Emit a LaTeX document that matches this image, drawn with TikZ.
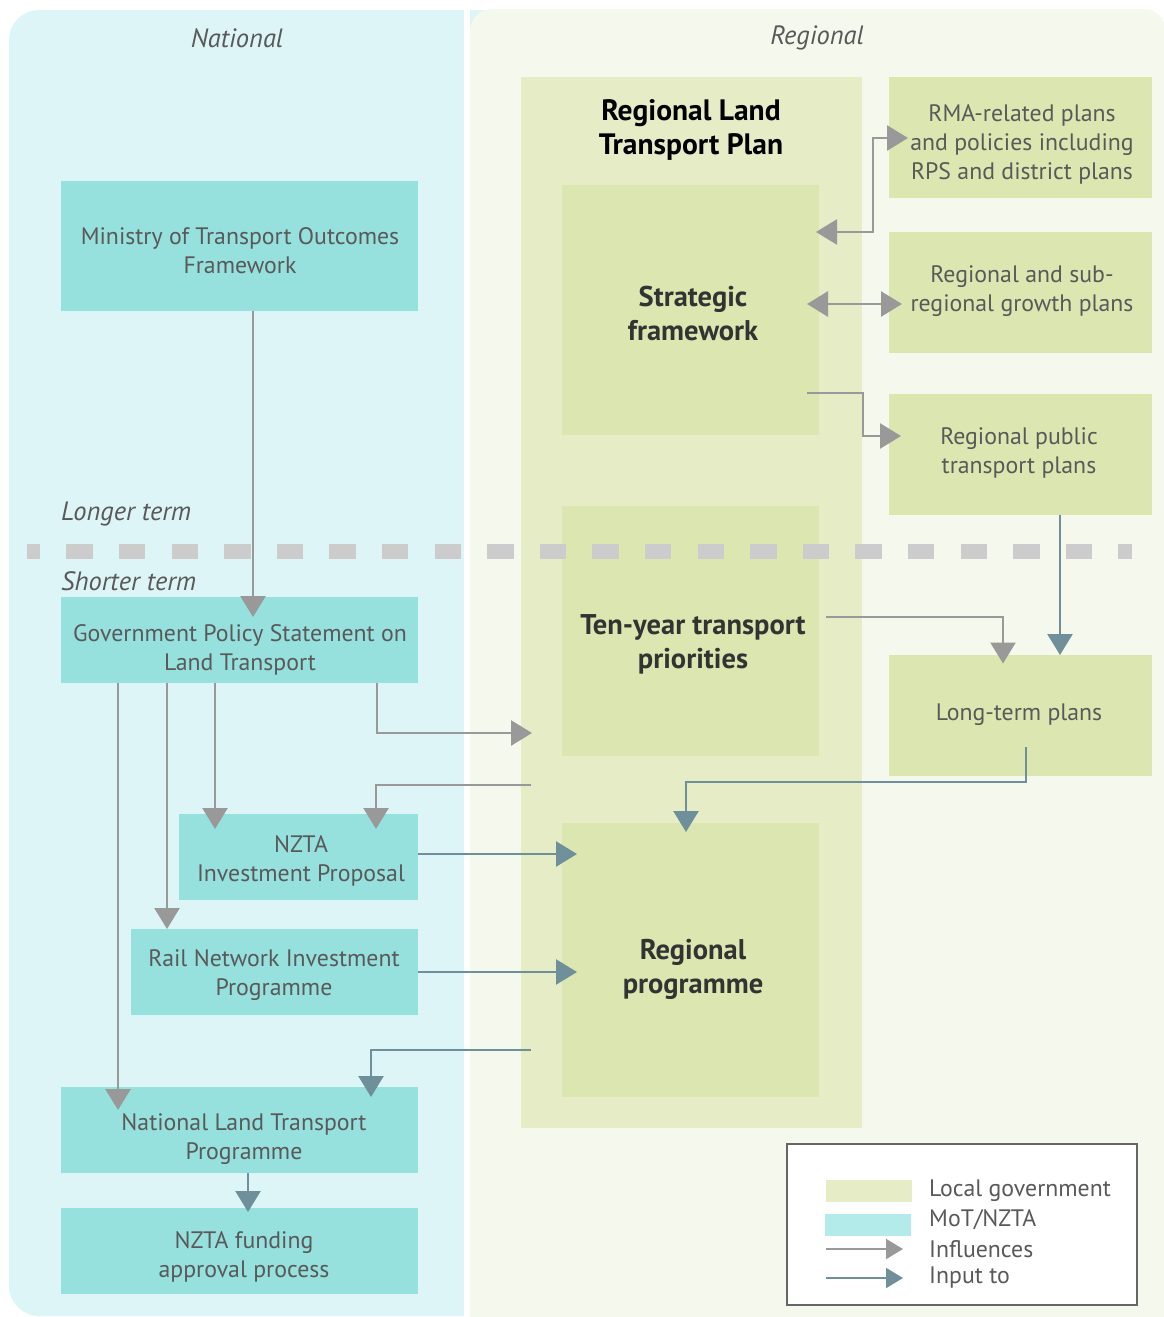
\documentclass[tikz,border=0pt]{standalone}
\usepackage{fontspec}
\setmainfont{PT Sans}
\usetikzlibrary{arrows.meta,calc}
\definecolor{natbg}{HTML}{DDF5F6}
\definecolor{regbg}{HTML}{F5F8EC}
\definecolor{mot}{HTML}{96E0DE}
\definecolor{rltpc}{HTML}{E5ECC6}
\definecolor{loc}{HTML}{DCE6B0}
\definecolor{legmot}{HTML}{B3EBEB}
\definecolor{arrgray}{HTML}{999999}
\definecolor{arrblue}{HTML}{6F8F9B}
\definecolor{dashc}{HTML}{CCCCCC}
\definecolor{txtgray}{HTML}{595959}
\definecolor{darktxt}{HTML}{333333}
\definecolor{legframe}{HTML}{666666}
\tikzset{
  box/.style={rectangle, inner sep=0pt, outer sep=0pt, draw=none},
  motbox/.style={box, fill=mot},
  locbox/.style={box, fill=loc},
  txt/.style={text=txtgray, font=\fontsize{23.8}{29}\selectfont, align=center, inner sep=0pt},
  btxt/.style={text=darktxt, font=\fontsize{28.5}{34}\selectfont\bfseries, align=center, inner sep=0pt},
  itxt/.style={text=txtgray, font=\fontsize{26.5}{29}\selectfont\itshape, inner sep=0pt},
  tipbig/.tip={Triangle[length=21pt,width=25pt]},
  tipsmall/.tip={Triangle[length=17pt,width=20pt]},
  infl/.style={draw=arrgray, line width=2.5pt, -tipbig},
  inpt/.style={draw=arrblue, line width=2.5pt, -tipbig},
  both/.style={draw=arrgray, line width=2.5pt, tipbig-tipbig},
}
\begin{document}
\begin{tikzpicture}[x=1pt,y=-1pt]
\useasboundingbox (0,0) rectangle (1164,1317);
% panels
\fill[natbg, rounded corners=30pt] (9,10) rectangle (520,1316);
\fill[white] (464,0) rectangle (470,1317);
\fill[regbg, rounded corners=22pt] (470,9) rectangle (1166,1345);

% RLTP block
\node[box, fill=rltpc, minimum width=341pt, minimum height=1051pt] (rltp) at (691.5,602.5) {};
\node[locbox, minimum width=257pt, minimum height=250pt] (strat) at (690.5,310) {};
\node[locbox, minimum width=257pt, minimum height=250pt] (ten) at (690.5,631) {};
\node[locbox, minimum width=257pt, minimum height=274pt] (regp) at (690.5,960) {};

% right boxes
\node[locbox, minimum width=263pt, minimum height=121pt] (rma) at (1020.5,137.5) {};
\node[locbox, minimum width=263pt, minimum height=121pt] (grow) at (1020.5,292.5) {};
\node[locbox, minimum width=263pt, minimum height=121pt] (rpt) at (1020.5,454.5) {};
\node[locbox, minimum width=263pt, minimum height=121pt] (ltp) at (1020.5,715.5) {};

% national boxes
\node[motbox, minimum width=357pt, minimum height=130pt] (motf) at (239.5,246) {};
\node[motbox, minimum width=357pt, minimum height=86pt] (gps) at (239.5,640) {};
\node[motbox, minimum width=239pt, minimum height=86pt] (ip) at (298.5,857) {};
\node[motbox, minimum width=287pt, minimum height=86pt] (rail) at (274.5,972) {};
\node[motbox, minimum width=357pt, minimum height=86pt] (nltp) at (239.5,1130) {};
\node[motbox, minimum width=357pt, minimum height=86pt] (fund) at (239.5,1251) {};

% term divider
\draw[dashc, line width=15pt, dash pattern=on 26.3pt off 26.3pt, dash phase=13.15pt] (27,551) -- (1132,551);

% texts
\node[itxt] (tnat) at (237,38) {National};
\node[itxt] (treg) at (817,38) {Regional};
\node[itxt, anchor=west] (tlong) at (61,514) {Longer term};
\node[itxt, anchor=west] (tshort) at (61,581) {Shorter term};

\node[txt] (motT) at (240,251) {Ministry of Transport Outcomes\\Framework};
\node[txt] (gpsT) at (240,650) {Government Policy Statement on\\Land Transport};
\node[txt] (ipT) at (301,861) {NZTA\\Investment Proposal};
\node[txt] (railT) at (274,975) {Rail Network Investment\\Programme};
\node[txt] (nltpT) at (244,1139) {National Land Transport\\Programme};
\node[txt] (fundT) at (244,1257) {NZTA funding\\approval process};

\node[btxt, text=black, font=\fontsize{29.5}{34}\selectfont\bfseries] (rltpT) at (691,130) {Regional Land\\Transport Plan};
\node[btxt] (stratT) at (693,314) {Strategic\\framework};
\node[btxt] (tenT) at (693,644) {Ten-year transport\\priorities};
\node[btxt] (regpT) at (693,969) {Regional\\programme};

\node[txt] (rmaT) at (1022,144) {RMA-related plans\\and policies including\\RPS and district plans};
\node[txt] (growT) at (1022,291) {Regional and sub-\\regional growth plans};
\node[txt] (rptT) at (1019,453) {Regional public\\transport plans};
\node[txt] (ltpT) at (1019,715) {Long-term plans};

% connectors: influences
\draw[infl] ($(motf.south)+(13.5,0)$) -- ($(gps.north)+(13.5,20)$);
\draw[infl] ($(gps.south)+(137.5,0)$) |- ($(ten.west)+(-30,102)$);
\draw[infl] ($(gps.south)+(-24.5,0)$) -- ($(ip.north -| gps.south)+(-24.5,15)$);
\draw[infl] ($(gps.south)+(-72.5,0)$) -- ($(rail.north -| gps.south)+(-72.5,0)$);
\draw[infl] ($(gps.south)+(-121.5,0)$) -- ($(nltp.north)+(-121.5,23)$);
\coordinate (tenout) at ($(rltp.west)+(10,182.5)$);
\draw[infl] (tenout) -| ($(ip.north)+(77.5,15)$);

\draw[both] ($(strat.east)+(-3,-78)$) -- ($(strat.east)+(54,-78)$) |- ($(rma.west)+(19,0.5)$);
\draw[both] ($(strat.east)+(-12,-6)$) -- ($(grow.west)+(13,11.5)$);
\draw[infl] ($(strat.east)+(-12,83)$) -| ($(strat.east)+(44,126)$) -- ($(rpt.west)+(12,-18.5)$);
\coordinate (tenright) at ($(ten.east)+(7,-14)$);
\draw[infl] (tenright) -| ($(ltp.north)+(-17.5,8.5)$);

% connectors: input to
\draw[inpt] ($(ip.east)+(0,-3)$) -- ($(regp.west)+(15,-106)$);
\draw[inpt] (rail.east) -- ($(regp.west)+(15,12)$);
\coordinate (regout) at ($(rltp.west)+(10,447.5)$);
\draw[inpt] (regout) -| ($(nltp.north)+(131.5,10)$);
\draw[inpt] ($(nltp.south)+(8.5,0)$) -- ($(fund.north)+(8.5,4)$);
\draw[inpt] ($(rpt.south)+(39.5,0)$) -- ($(ltp.north)+(39.5,0)$);
\coordinate (ltpout) at ($(ltp.south)+(5.5,-29)$);
\draw[inpt] (ltpout) -- ++(0,35) -| ($(regp.north)+(-4.5,9)$);

% legend
\node[box, fill=white, draw=legframe, line width=2.5pt, minimum width=350pt, minimum height=161pt] (legend) at (962,1224.5) {};
\node[box, fill=rltpc, minimum width=86pt, minimum height=22pt] (swloc) at (869,1191) {};
\node[box, fill=legmot, minimum width=86pt, minimum height=22pt] (swmot) at (868,1225) {};
\coordinate (lg1a) at (826,1249);
\coordinate (lg1b) at (903,1249);
\coordinate (lg2a) at (826,1278);
\coordinate (lg2b) at (903,1278);
\draw[draw=arrgray, line width=2pt, -tipsmall] (lg1a) -- (lg1b);
\draw[draw=arrblue, line width=2pt, -tipsmall] (lg2a) -- (lg2b);
\node[txt, anchor=west] (l1) at (929,1191) {Local government};
\node[txt, anchor=west] (l2) at (929,1220) {MoT/NZTA};
\node[txt, anchor=west] (l3) at (929,1249) {Influences};
\node[txt, anchor=west] (l4) at (929,1278) {Input to};
\end{tikzpicture}
\end{document}
